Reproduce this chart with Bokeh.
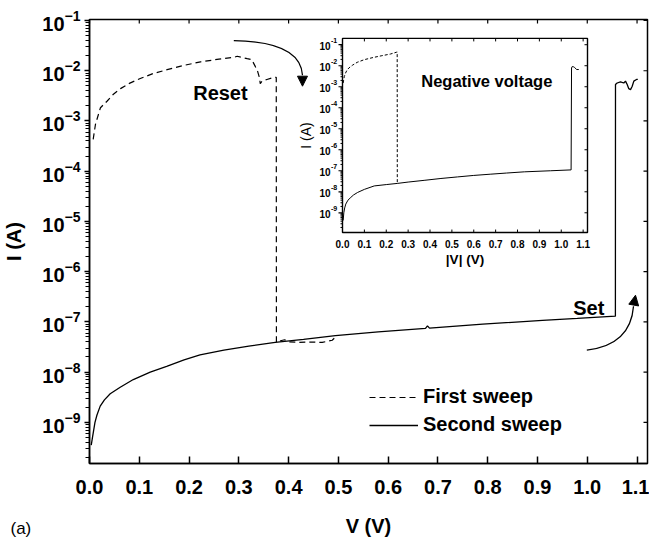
from math import pi, log10
from bokeh.plotting import figure
from bokeh.models import (Range1d, FixedTicker, NumeralTickFormatter, LogTickFormatter,
                          Legend, LegendItem, Label, Arrow, NormalHead)
from bokeh.core.properties import value
from bokeh.embed import file_html
from bokeh.resources import INLINE

# ---------------- data ----------------
first_v = [0.0074, 0.012, 0.022, 0.0356, 0.048, 0.0623, 0.080, 0.102, 0.128, 0.156, 0.190,
           0.223, 0.260, 0.290, 0.2967, 0.3168, 0.326, 0.333, 0.3376, 0.3416, 0.343, 0.3465,
           0.3565, 0.3666, 0.3752, 0.3755, 0.384, 0.392, 0.400, 0.420, 0.444, 0.4675, 0.4876,
           0.495]
first_i = [4.3e-4, 8.6e-4, 1.83e-3, 2.5e-3, 3.4e-3, 4.4e-3, 5.6e-3, 7.0e-3, 8.8e-3, 1.05e-2,
           1.28e-2, 1.5e-2, 1.7e-2, 1.85e-2, 1.94e-2, 1.74e-2, 1.66e-2, 1.22e-2, 9.8e-3, 7.2e-3,
           5.5e-3, 6.2e-3, 6.7e-3, 7.2e-3, 7.4e-3, 3.9e-8, 4.2e-8, 4.4e-8, 4.0e-8, 3.9e-8,
           3.96e-8, 3.9e-8, 4.3e-8, 5.1e-8]

second_v = [0.0035, 0.006, 0.008, 0.011, 0.015, 0.0215, 0.030, 0.0416, 0.0617, 0.088, 0.122,
            0.155, 0.190, 0.222, 0.270, 0.320, 0.373, 0.430, 0.494, 0.580, 0.675, 0.679,
            0.683, 0.790, 0.910, 0.980, 1.0565, 1.0567, 1.060, 1.0668, 1.0734, 1.0768, 1.0802,
            1.0834, 1.0869, 1.0903, 1.0935, 1.0989, 1.1015]
second_i = [3.5e-10, 5.0e-10, 6.6e-10, 1.0e-9, 1.4e-9, 2.1e-9, 2.8e-9, 3.7e-9, 5.0e-9, 7.1e-9,
            1.0e-8, 1.3e-8, 1.75e-8, 2.2e-8, 2.75e-8, 3.3e-8, 3.9e-8, 4.5e-8, 5.3e-8, 6.3e-8,
            7.4e-8, 8.3e-8, 7.5e-8, 9.0e-8, 1.07e-7, 1.17e-7, 1.3e-7, 5.3e-3, 5.7e-3, 6.0e-3,
            5.7e-3, 6.2e-3, 5.3e-3, 4.4e-3, 4.2e-3, 4.9e-3, 6.2e-3, 6.7e-3, 6.7e-3]

inset_first_v = [0.003, 0.008, 0.014, 0.020, 0.029, 0.045, 0.067, 0.100, 0.143, 0.180, 0.219,
                 0.247, 0.250, 0.2505]
inset_first_i = [1.5e-3, 3.0e-3, 4.5e-3, 6.0e-3, 7.8e-3, 1.05e-2, 1.45e-2, 1.95e-2, 2.5e-2,
                 3.0e-2, 3.6e-2, 4.4e-2, 4.5e-2, 2.5e-8]

inset_second_v = [0.003, 0.006, 0.010, 0.015, 0.025, 0.038, 0.050, 0.069, 0.100, 0.145, 0.200,
                  0.250, 0.300, 0.373, 0.450, 0.526, 0.600, 0.678, 0.750, 0.831, 0.950, 1.045,
                  1.047, 1.050, 1.055, 1.061, 1.070, 1.080]
inset_second_i = [4.3e-10, 1.0e-9, 1.7e-9, 2.6e-9, 4.0e-9, 5.4e-9, 7.0e-9, 9.3e-9, 1.3e-8,
                  1.9e-8, 2.2e-8, 2.5e-8, 2.9e-8, 3.5e-8, 4.3e-8, 5.1e-8, 6.0e-8, 6.9e-8,
                  7.8e-8, 8.9e-8, 1.0e-7, 1.1e-7, 7.8e-3, 9.1e-3, 9.0e-3, 8.3e-3, 6.6e-3, 6.6e-3]

series_labels = ["First sweep", "Second sweep"]

x_ticks = [0.0, 0.1, 0.2, 0.3, 0.4, 0.5, 0.6, 0.7, 0.8, 0.9, 1.0, 1.1]
x_tick_labels = ["0.0", "0.1", "0.2", "0.3", "0.4", "0.5", "0.6", "0.7", "0.8", "0.9", "1.0", "1.1"]
y_ticks = [1e-9, 1e-8, 1e-7, 1e-6, 1e-5, 1e-4, 1e-3, 1e-2, 1e-1]
inset_y_exponents = ["-9", "-8", "-7", "-6", "-5", "-4", "-3", "-2", "-1"]

# annotations (text, arrows) in data coordinates
reset_text = ("Reset", 0.2083, 3.62e-3)
set_text = ("Set", 0.9718, 1.9e-7)
neg_text = ("Negative voltage", 0.36, 1.97e-3)
panel_tag = "(a)"
reset_arrow_v = [0.2899, 0.4239, 0.4279, 0.4279]   # start, control, end, tip
reset_arrow_i = [3.96e-2, 3.84e-2, 8.13e-3, 4.92e-3]
set_arrow_v = [0.9991, 1.0869, 1.0929, 1.0969]
set_arrow_i = [2.75e-8, 3.45e-8, 2.05e-7, 3.39e-7]

# ---------------- layout ----------------
FONT = value("Liberation Sans")
FIG_W, FIG_H = 649, 539
B_L, B_R, B_T, B_B = 89, 2, 18, 75
FL, FR = B_L, FIG_W - B_R
FT, FB = B_T, FIG_H - B_B

X0, X1 = 0.0, 1.121
Y0, Y1 = 10 ** -9.82, 10 ** -0.98

# inset box (page px) and its data ranges
IL, IR, IT, IB = 342, 587, 37, 232
IX0, IX1 = 0.0, 1.12
IY0, IY1 = 10 ** -9.94, 10 ** -0.70
kx = (IX1 - IX0) / (IR - IL)
ky = (log10(IY1) - log10(IY0)) / (IB - IT)
ix_range = Range1d(IX0 - (IL - FL) * kx, IX1 + (FR - IR) * kx)
iy_range = Range1d(10 ** (log10(IY0) - (FB - IB) * ky), 10 ** (log10(IY1) + (IT - FT) * ky))

p = figure(width=FIG_W, height=FIG_H, y_axis_type="log",
           x_range=Range1d(X0, X1), y_range=Range1d(Y0, Y1),
           output_backend="svg", toolbar_location=None,
           min_border_left=B_L, min_border_right=B_R, min_border_top=B_T,
           min_border_bottom=B_B)
p.extra_x_ranges = {"ix": ix_range}
p.extra_y_ranges = {"iy": iy_range}
p.grid.visible = False
p.background_fill_color = "white"
p.border_fill_color = "white"
p.outline_line_color = "black"
p.outline_line_width = 1.5

# x axis
xa = p.xaxis[0]
xa.ticker = FixedTicker(ticks=x_ticks)
xa.formatter = NumeralTickFormatter(format="0.0")
xa.major_tick_in = 7
xa.major_tick_out = 0
xa.minor_tick_in = 0
xa.minor_tick_out = 0
xa.major_label_standoff = 16
xa.axis_line_width = 1.5
xa.major_tick_line_width = 1.5
xa.major_label_text_font = "Liberation Sans"
xa.major_label_text_font_size = "20px"
xa.major_label_text_font_style = "bold"
xa.major_label_text_color = "black"
xa.axis_label = "V (V)"
xa.axis_label_text_font = "Liberation Sans"
xa.axis_label_text_font_size = "20px"
xa.axis_label_text_font_style = "bold"
xa.axis_label_text_color = "black"
xa.axis_label_standoff = 18

# y axis
y_minor = [k * 10.0 ** n for n in range(-10, -1) for k in range(2, 10)]
ya = p.yaxis[0]
ya.ticker = FixedTicker(ticks=y_ticks, minor_ticks=y_minor)
ya.formatter = LogTickFormatter()
ya.major_tick_in = 0
ya.major_tick_out = 5
ya.minor_tick_in = 0
ya.minor_tick_out = 4
ya.major_label_standoff = 4
ya.axis_line_width = 1.5
ya.major_tick_line_width = 1.5
ya.major_label_text_font = "Liberation Sans"
ya.major_label_text_font_size = "20px"
ya.major_label_text_font_style = "bold"
ya.major_label_text_color = "black"
ya.axis_label = "I (A)"
ya.axis_label_text_font = "Liberation Sans"
ya.axis_label_text_font_size = "20px"
ya.axis_label_text_font_style = "bold"
ya.axis_label_text_color = "black"
ya.axis_label_standoff = 14

# ticks on top and right frame edges
p.ray(x=x_ticks, y=[Y1] * len(x_ticks), length=4, angle=-pi / 2, length_units="screen",
      line_color="black", line_width=1.2)
p.ray(x=[X1] * len(y_ticks), y=y_ticks, length=4, angle=pi, length_units="screen",
      line_color="black", line_width=1.2)

# main curves
r_first = p.line(first_v, first_i, line_color="black", line_width=1.2, line_dash="6 4")
r_second = p.line(second_v, second_i, line_color="black", line_width=1.3)

# legend
legend = Legend(items=[LegendItem(label=series_labels[0], renderers=[r_first]),
                       LegendItem(label=series_labels[1], renderers=[r_second])],
                location=(280, 27), padding=0, margin=0, spacing=5,
                glyph_width=49, glyph_height=20, label_height=20, label_standoff=5,
                label_text_font="Liberation Sans", label_text_font_size="20px",
                label_text_font_style="bold", label_text_color="black",
                border_line_color=None, background_fill_alpha=0)
p.add_layout(legend)

# annotations
for (t, vx, iy) in (reset_text, set_text):
    p.text(x=[vx], y=[iy], text=[t], text_font=FONT, text_font_size="20px",
           text_font_style="bold", text_color="black", text_align="left",
           text_baseline="alphabetic")

for av, ai in ((reset_arrow_v, reset_arrow_i), (set_arrow_v, set_arrow_i)):
    p.quadratic(x0=[av[0]], y0=[ai[0]], cx=[av[1]], cy=[ai[1]], x1=[av[2]], y1=[ai[2]],
                line_color="black", line_width=1.3)
    p.add_layout(Arrow(end=NormalHead(size=10, fill_color="black", line_color="black",
                                      line_width=1),
                       x_start=av[2], y_start=ai[2], x_end=av[3], y_end=ai[3],
                       line_alpha=0))

# panel tag "(a)": kept in the (otherwise empty) top side panel so it is not clipped by the
# frame and takes no room from the bottom axis; offset down to the bottom-left corner.
p.add_layout(Label(x=-(FL - 10), y=FT - 527, x_units="screen", y_units="screen",
                   text=panel_tag, text_align="left", text_baseline="middle",
                   text_font="Liberation Sans", text_font_size="17px", text_color="black"),
             "above")

# ---------------- inset ----------------
IN = dict(x_range_name="ix", y_range_name="iy")
p.quad(left=[IX0], right=[IX1], bottom=[IY0], top=[IY1], fill_color="white",
       line_color="black", line_width=1.4, **IN)
p.line(inset_first_v, inset_first_i, line_color="black", line_width=1.0, line_dash="3 2", **IN)
p.line(inset_second_v, inset_second_i, line_color="black", line_width=1.0, **IN)

inset_minor = [k * 10.0 ** n for n in range(-10, -1) for k in range(2, 10)
               if IY0 < k * 10.0 ** n < IY1]
p.ray(x=x_ticks, y=[IY0] * len(x_ticks), length=3, angle=pi / 2, length_units="screen",
      line_color="black", line_width=1.0, **IN)
p.ray(x=x_ticks, y=[IY1] * len(x_ticks), length=3, angle=-pi / 2, length_units="screen",
      line_color="black", line_width=1.0, **IN)
p.ray(x=[IX0] * len(y_ticks), y=y_ticks, length=4, angle=pi, length_units="screen",
      line_color="black", line_width=1.2, **IN)
p.ray(x=[IX0] * len(inset_minor), y=inset_minor, length=2, angle=pi, length_units="screen",
      line_color="black", line_width=1.0, **IN)
p.ray(x=[IX1] * len(y_ticks), y=y_ticks, length=3, angle=pi, length_units="screen",
      line_color="black", line_width=1.0, **IN)

p.text(x=x_ticks, y=[IY0] * len(x_ticks), text=x_tick_labels, y_offset=11,
       text_font=FONT, text_font_size="10px", text_font_style="bold", text_color="black",
       text_align="center", text_baseline="middle", **IN)
p.text(x=[IX0] * len(y_ticks), y=y_ticks, text=["10"] * len(y_ticks), x_offset=-12, y_offset=1,
       text_font=FONT, text_font_size="10px", text_font_style="bold", text_color="black",
       text_align="right", text_baseline="middle", **IN)
p.text(x=[IX0] * len(y_ticks), y=y_ticks, text=inset_y_exponents, x_offset=-11.5, y_offset=-4,
       text_font=FONT, text_font_size="7px", text_font_style="bold", text_color="black",
       text_align="left", text_baseline="middle", **IN)
p.text(x=[IX0], y=[10 ** ((log10(IY0) + log10(IY1)) / 2)], text=["I (A)"], x_offset=-37,
       angle=pi / 2, text_font=FONT, text_font_size="14px", text_color="black",
       text_align="center", text_baseline="middle", **IN)
p.text(x=[(IX0 + IX1) / 2], y=[IY0], text=["|V| (V)"], y_offset=26.5,
       text_font=FONT, text_font_size="13.5px", text_font_style="bold", text_color="black",
       text_align="center", text_baseline="middle", **IN)
p.text(x=[neg_text[1]], y=[neg_text[2]], text=[neg_text[0]], text_font=FONT,
       text_font_size="16.5px", text_font_style="bold", text_color="black",
       text_align="left", text_baseline="alphabetic", **IN)

open("out.html", "w").write(file_html(p, INLINE))
